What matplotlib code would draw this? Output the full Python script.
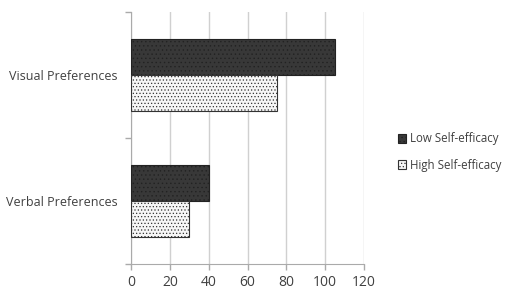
import numpy as np
import matplotlib
matplotlib.use("Agg")
import matplotlib.pyplot as plt

plt.rcParams['font.family'] = ['Open Sans', 'DejaVu Sans']
plt.rcParams['hatch.linewidth'] = 0.5

# data
categories = ['Verbal Preferences', 'Visual Preferences']
low_self_efficacy = [40, 105]
high_self_efficacy = [30, 75]
series_names = ['Low Self-efficacy', 'High Self-efficacy']
x_ticks = [0, 20, 40, 60, 80, 100, 120]

text_col = '#404040'

fig = plt.figure(figsize=(5.11, 2.94), dpi=100)
ax = fig.add_axes([0.2564, 0.102, 0.7123 - 0.2564, 0.959 - 0.102])

y = np.arange(len(categories))
h = 0.286
plt.rcParams['hatch.color'] = '#6a6a6a'
b1 = ax.barh(y + h / 2, low_self_efficacy, height=h, color='#383838',
             edgecolor='#222222', hatch='....', linewidth=0.8, zorder=3)
plt.rcParams['hatch.color'] = '#999999'
b2 = ax.barh(y - h / 2, high_self_efficacy, height=h, color='#f6f6f6',
             edgecolor='#333333', hatch='.....', linewidth=0.8, zorder=3)

ax.set_xlim(0, 120)
ax.set_ylim(-0.5, 1.5)
ax.set_xticks(x_ticks)
ax.set_xticklabels([str(v) for v in x_ticks], color=text_col, fontsize=10)
ax.set_yticks(y)
ax.set_yticklabels(categories, color=text_col, fontsize=9)
ax.set_yticks([-0.5, 0.5, 1.5], minor=True)
ax.tick_params(axis='y', which='major', length=0, pad=10)
ax.tick_params(axis='y', which='minor', length=4, color='#aaaaaa', width=1)
ax.tick_params(axis='x', length=4, color='#aaaaaa', width=1, pad=4)

ax.grid(axis='x', color='#d0d0d0', linewidth=1, zorder=0)
for s in ['top', 'right']:
    ax.spines[s].set_visible(False)
ax.spines['left'].set_color('#aaaaaa')
ax.spines['bottom'].set_color('#aaaaaa')

fig.legend([b1, b2], series_names, loc='upper left',
           bbox_to_anchor=(0.758, 0.585), frameon=False, fontsize=8.3,
           handlelength=0.75, handleheight=0.75, handletextpad=0.3,
           labelspacing=1.15, labelcolor=text_col)

fig.savefig('out.png', dpi=100)
